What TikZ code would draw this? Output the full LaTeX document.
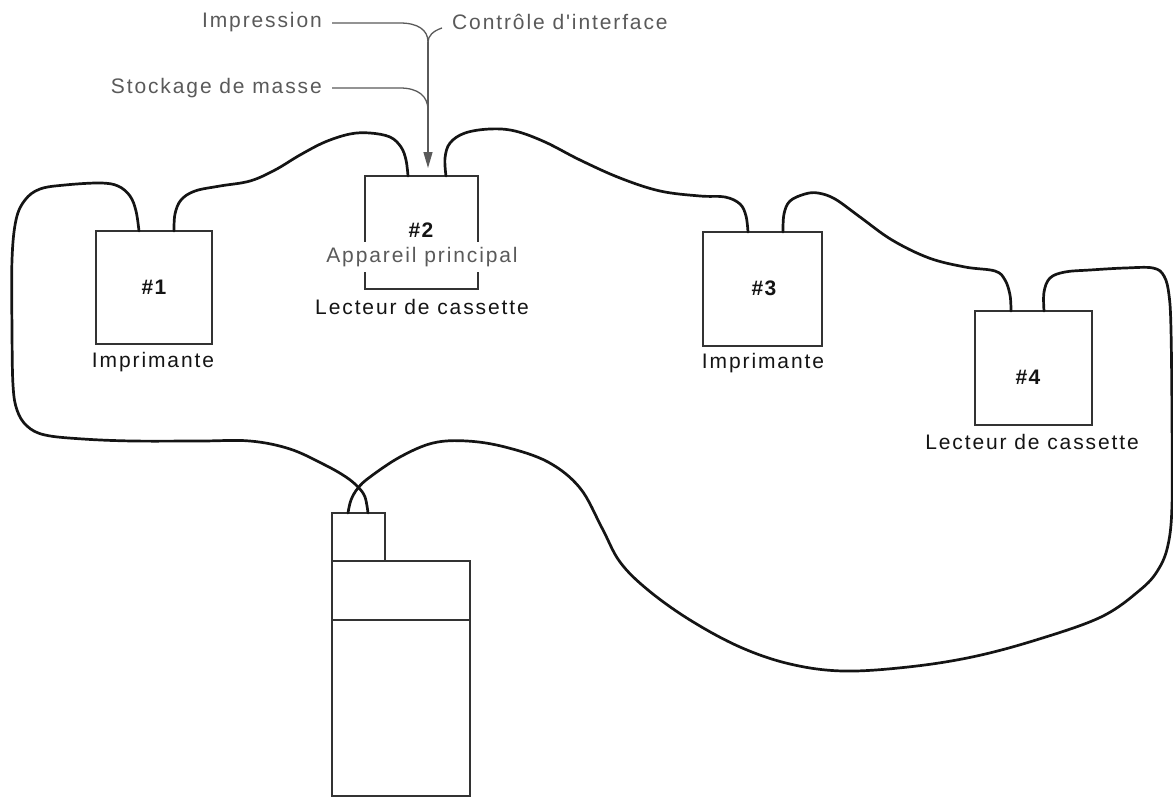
\documentclass[tikz,border=0pt]{standalone}
\usepackage{fontspec}
\setmainfont{Liberation Sans}
\newfontfamily\labfont[LetterSpace=9]{Liberation Sans}
\newfontfamily\numfont[LetterSpace=6]{Liberation Sans}
\usetikzlibrary{arrows.meta,calc}
\definecolor{ink}{HTML}{141414}
\definecolor{greyink}{HTML}{5A5A5A}
\definecolor{boxline}{HTML}{333333}
\begin{document}
\begin{tikzpicture}[x=1pt,y=-1pt,
  unitbox/.style={draw=boxline, line width=1.4pt, outer sep=0pt, inner sep=0pt},
  num/.style={inner sep=0pt, text=ink, font=\numfont\bfseries\fontsize{21pt}{24pt}\selectfont},
  blacklabel/.style={inner sep=0pt, text=ink, font=\labfont\fontsize{21pt}{25pt}\selectfont},
  greylabel/.style={inner sep=0pt, text=greyink, font=\labfont\fontsize{21pt}{25pt}\selectfont},
  lead/.style={draw=greyink, line width=1.3pt},
  cable/.style={draw=ink, line width=2.7pt, line cap=round, line join=round}]
\fill[white] (0,0) rectangle (1173,798);
\useasboundingbox (0,0) rectangle (1173,798);

% boxes
\node[unitbox, minimum width=116pt, minimum height=113pt] (b1) at (154,287.5) {};
\node[unitbox, minimum width=113pt, minimum height=113pt] (b2) at (421.5,232.5) {};
\node[unitbox, minimum width=119pt, minimum height=114pt] (b3) at (762.5,289) {};
\node[unitbox, minimum width=117pt, minimum height=114pt] (b4) at (1033.5,368) {};
\node[unitbox, minimum width=138pt, minimum height=235pt] (body) at (401,678.5) {};
\node[unitbox, minimum width=53pt, minimum height=48pt] (head) at (358.5,537) {};
\draw[draw=boxline, line width=1.4pt] ($(body.north west)+(0,59)$) -- ($(body.north east)+(0,59)$);

% numbers and labels
\node[num] (n1) at (154,287) {\#1};
\node[num] (n2) at (421,230) {\#2};
\node[num] (n3) at (764,288) {\#3};
\node[num] (n4) at (1028,377) {\#4};
\node[greylabel, fill=white, inner xsep=3pt, inner ysep=5pt] (app) at (422,257) {Appareil principal};
\node[blacklabel] (l1) at (153,362) {Imprimante};
\node[blacklabel] (l2) at (422,307) {Lecteur de cassette};
\node[blacklabel] (l3) at (763,363) {Imprimante};
\node[blacklabel] (l4) at (1032,442) {Lecteur de cassette};

% annotation leaders
\node[greylabel, anchor=east] (imp) at (322,22) {Impression};
\node[greylabel, anchor=east] (sto) at (322,88) {Stockage de masse};
\node[greylabel, anchor=west] (ctl) at (452,22) {Contrôle d'interface};
\coordinate (j1) at (428,42);
\coordinate (j2) at (428,110);
\coordinate (tip) at (428,168);
\draw[lead] ($(imp.east)+(10,1)$) -- (400,23) .. controls (418,23) and (428,30) .. (j1);
\draw[lead] ($(ctl.west)+(-10,6)$) .. controls (433,31) and (428,36) .. (j1);
\draw[lead] ($(sto.east)+(10,0)$) -- (400,88) .. controls (418,88) and (428,96) .. (j2);
\draw[lead, -{Triangle[length=16pt,width=9pt]}] (j1) -- (tip);

% cable end points
\coordinate (c1a) at ($(b1.north west)+(43,0)$);
\coordinate (c1b) at ($(b1.north west)+(78,0)$);
\coordinate (c2a) at ($(b2.north west)+(43,0)$);
\coordinate (c2b) at ($(b2.north west)+(81,0)$);
\coordinate (c3a) at ($(b3.north west)+(45,0)$);
\coordinate (c3b) at ($(b3.north west)+(80,0)$);
\coordinate (c4a) at ($(b4.north west)+(36,0)$);
\coordinate (c4b) at ($(b4.north west)+(69,0)$);
\coordinate (ha) at ($(head.north west)+(16,0)$);
\coordinate (hb) at ($(head.north west)+(36,0)$);

% cables
\draw[cable] plot[smooth, tension=0.6] coordinates {(hb) (365,497) (358,487) (346,477) (325,465) (290,449) (250,441) (200,441) (133,441) (83,439) (45,435) (27,426) (17,410) (13,385) (12,330) (12,260) (16,220) (25,200) (40,189) (65,185) (100,183) (118,186) (130,196) (136,211) (c1a)};
\draw[cable] plot[smooth, tension=0.6] coordinates {(c1b) (175,214) (181,200) (195,191) (220,186) (250,181) (275,170) (300,155) (325,142) (350,134) (370,133) (390,137) (401,147) (406,160) (c2a)};
\draw[cable] plot[smooth, tension=0.6] coordinates {(c2b) (445,158) (450,143) (465,133) (490,129) (515,131) (545,142) (580,160) (620,178) (660,191) (700,196) (725,197) (740,204) (746,216) (c3a)};
\draw[cable] plot[smooth, tension=0.6] coordinates {(c3b) (784,214) (790,201) (805,194) (818,193) (835,199) (860,217) (892,240) (929,258) (965,267) (995,271) (1005,280) (1010,295) (c4a)};
\draw[cable] plot[smooth, tension=0.6] coordinates {(c4b) (1044,292) (1050,278) (1065,272) (1090,270) (1125,268) (1153,268) (1164,276) (1169,295) (1171,330) (1172,420) (1172,505) (1168,545) (1158,570) (1140,590) (1101,617) (1036,640) (972,657) (908,667) (843,671) (790,664) (740,647) (690,620) (648,590) (620,562) (602,528) (580,488) (548,462) (505,447) (467,441) (433,443) (400,457) (370,477) (358,488) (351,500) (ha)};
\end{tikzpicture}
\end{document}
